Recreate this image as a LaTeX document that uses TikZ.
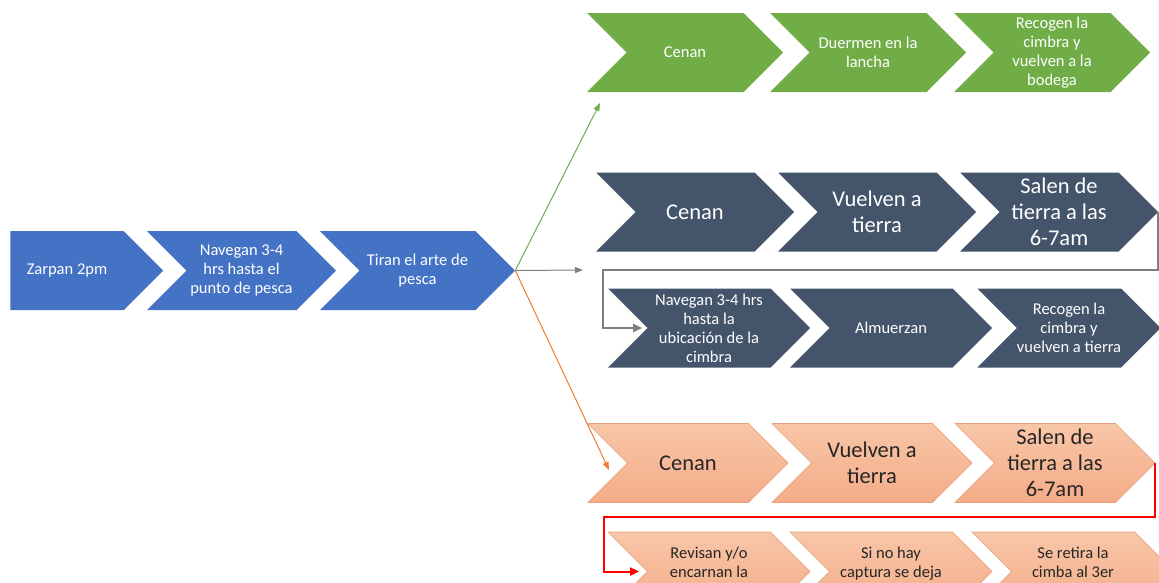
\documentclass[tikz,border=0pt]{standalone}
\usepackage{fontspec}
\setmainfont{Carlito}
\usetikzlibrary{positioning,arrows.meta,shapes.symbols}
\definecolor{stepblue}{HTML}{4472C4}
\definecolor{stepgreen}{HTML}{70AD47}
\definecolor{stepslate}{HTML}{44546A}
\definecolor{peachtop}{HTML}{F8C6A8}
\definecolor{peachbot}{HTML}{F4AC88}
\definecolor{peachline}{HTML}{E6A07C}
\definecolor{forkorange}{HTML}{ED7D31}
\definecolor{forkgray}{HTML}{7F7F7F}
\tikzset{
  chev/.style     = {shape=signal, signal from=west, signal to=east, signal pointer angle=90,
                     minimum height=79, minimum width=196, inner sep=0pt, align=center,
                     fill=#1, text=white},
  startchev/.style = {chev=#1, signal from=nowhere},
  peach/.style    = {chev=peachbot, top color=peachtop, bottom color=peachbot,
                     draw=peachline, line width=0.6pt, text=black!85},
  smalltxt/.style = {font=\fontsize{16.5}{19}\selectfont},
  bigtxt/.style   = {font=\fontsize{22.5}{26}\selectfont},
  forkflow/.style = {-{Triangle[length=8pt,width=6pt]}, line width=1pt, draw=#1},
  backflow/.style = {-{Triangle[length=9pt,width=8pt]}, line width=2pt, draw=#1},
}
\begin{document}
\begin{tikzpicture}[x=1pt, y=-1pt]
  \useasboundingbox (0,0) rectangle (1159,582);
  \clip (0,0) rectangle (1159,582);

  % common start
  \node[startchev=stepblue, smalltxt, minimum width=153] (b1) at (67,270.5) {Zarpan 2pm};
  \node[chev=stepblue, smalltxt, minimum width=189] (b2) at (241.5,270.5) {Navegan 3-4\\hrs hasta el\\punto de pesca};
  \node[chev=stepblue, smalltxt, minimum width=195] (b3) at (417.5,270.5) {Tiran el arte de\\pesca};

  % green branch
  \node[chev=stepgreen, smalltxt] (g1) at (685,52.5) {Cenan};
  \node[chev=stepgreen, smalltxt] (g2) at (868,52.5) {Duermen en la\\lancha};
  \node[chev=stepgreen, smalltxt] (g3) at (1052,52.5) {Recogen la\\cimbra y\\vuelven a la\\bodega};

  % slate branch
  \node[chev=stepslate, bigtxt, minimum width=198] (d1) at (695,212) {Cenan};
  \node[chev=stepslate, bigtxt, minimum width=198] (d2) at (877,212) {Vuelven a\\tierra};
  \node[chev=stepslate, bigtxt, minimum width=198] (d3) at (1059,212) {Salen de\\tierra a las\\6-7am};
  \node[chev=stepslate, smalltxt, minimum width=202] (e1) at (709,328) {Navegan 3-4 hrs\\hasta la\\ubicación de la\\cimbra};
  \node[chev=stepslate, smalltxt, minimum width=202] (e2) at (891,328) {Almuerzan};
  \node[chev=stepslate, smalltxt, minimum width=176] (e3) at (1069,328) {Recogen la\\cimbra y\\vuelven a tierra};

  % orange branch
  \node[peach, bigtxt, minimum width=200] (o1) at (688,463) {Cenan};
  \node[peach, bigtxt, minimum width=200] (o2) at (872,463) {Vuelven a\\tierra};
  \node[peach, bigtxt, minimum width=200] (o3) at (1055,463) {Salen de\\tierra a las\\6-7am};
  \node[peach, smalltxt, minimum width=202] (p1) at (709,571.5) {Revisan y/o\\encarnan la\\\mbox{}};
  \node[peach, smalltxt, minimum width=202] (p2) at (891,571.5) {Si no hay\\captura se deja\\\mbox{}};
  \node[peach, smalltxt, minimum width=202] (p3) at (1073,571.5) {Se retira la\\cimba al 3er\\\mbox{}};

  \coordinate (gend) at (600,103);
  \coordinate (dend) at (583,270);
  \coordinate (oend) at (609,470);
  \coordinate (dturn) at (603,270);
  \coordinate (oturn) at (604,517);

  \draw[forkflow=stepgreen] (b3.east) -- (gend);
  \draw[forkflow=forkgray] (b3.east) -- (dend);
  \draw[forkflow=forkorange] (b3.east) -- (oend);
  \draw[backflow=forkgray, shorten >=5pt] (d3.east) |- (dturn) |- (e1.west);
  \draw[backflow=red, shorten >=8pt] (o3.east) |- (oturn) |- (p1.west);
\end{tikzpicture}
\end{document}
